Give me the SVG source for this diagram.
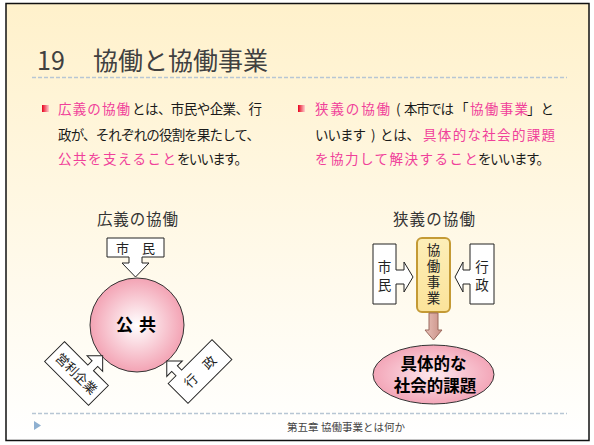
<svg xmlns="http://www.w3.org/2000/svg" width="594" height="445" viewBox="0 0 594 445">
<defs>
<linearGradient id="bg" x1="0" y1="0" x2="0" y2="1">
<stop offset="0" stop-color="#fff1cb"/>
<stop offset="0.92" stop-color="#fffefb"/>
<stop offset="1" stop-color="#ffffff"/>
</linearGradient>
<linearGradient id="bul" x1="0" y1="0" x2="1" y2="0">
<stop offset="0" stop-color="#e8001c"/>
<stop offset="1" stop-color="#ffd0d0"/>
</linearGradient>
<radialGradient id="pinkc" cx="0.5" cy="0.5" r="0.5">
<stop offset="0" stop-color="#ffffff"/>
<stop offset="1" stop-color="#f3a3b4"/>
</radialGradient>
<radialGradient id="pinke" cx="0.5" cy="0.5" r="0.5">
<stop offset="0" stop-color="#fde8ee"/>
<stop offset="1" stop-color="#f3a6b8"/>
</radialGradient>
<linearGradient id="gold" x1="0" y1="0" x2="0" y2="1">
<stop offset="0" stop-color="#fdeeb8"/>
<stop offset="1" stop-color="#fbe39a"/>
</linearGradient>
<linearGradient id="brown" x1="0" y1="0" x2="1" y2="0">
<stop offset="0" stop-color="#e8c0b8"/>
<stop offset="1" stop-color="#c98f85"/>
</linearGradient>
</defs>
<style>
text{font-family:"Noto Sans CJK JP","Noto Sans",sans-serif;}
.t{font-size:13.5px;fill:#1a1a1a;}
.p{fill:#f0409a;}
.h{font-size:15.5px;fill:#333;}
.cb{fill:#ffffff;stroke:#222;stroke-width:1;}
.lb{font-size:13px;fill:#222;}
.vt{font-size:13.5px;fill:#222;writing-mode:vertical-rl;}
.bold{font-weight:bold;fill:#000;}
.dot{stroke:#b7c6d4;stroke-width:1.5;stroke-dasharray:4 2;fill:none;}
</style>
<rect x="0" y="0" width="594" height="445" fill="#ffffff"/>
<rect x="6" y="3.5" width="583" height="437" fill="url(#bg)" stroke="#111" stroke-width="1.5"/>

<g id="title">
<text x="37" y="70" style="font-size:25px;fill:#404040;">19<tspan x="93">協働と協働事業</tspan></text>
<line x1="32" y1="77.5" x2="567" y2="77.5" class="dot"/>
</g>

<g id="bullet-left">
<rect x="42" y="105" width="7" height="7" fill="url(#bul)"/>
<text class="t" y="114"><tspan class="p" x="58" textLength="72" lengthAdjust="spacing">広義の協働</tspan><tspan x="132" textLength="130" lengthAdjust="spacing">とは、市民や企業、行</tspan></text>
<text class="t" y="140"><tspan x="58" textLength="202" lengthAdjust="spacing">政が、それぞれの役割を果たして、</tspan></text>
<text class="t" y="164"><tspan class="p" x="58" textLength="118" lengthAdjust="spacing">公共を支えること</tspan><tspan x="177" textLength="71" lengthAdjust="spacing">をいいます。</tspan></text>
</g>

<g id="bullet-right">
<rect x="298" y="105" width="7" height="7" fill="url(#bul)"/>
<text class="t" y="114"><tspan class="p" x="315" textLength="75" lengthAdjust="spacing">狭義の協働</tspan><tspan x="396">(</tspan><tspan x="404" textLength="50" lengthAdjust="spacing">本市では</tspan><tspan x="455">「</tspan><tspan class="p" x="470" textLength="58" lengthAdjust="spacing">協働事業</tspan><tspan x="527">」と</tspan></text>
<text class="t" y="140"><tspan x="315" textLength="51" lengthAdjust="spacing">いいます</tspan><tspan x="371">)</tspan><tspan x="380" textLength="40" lengthAdjust="spacing">とは、</tspan><tspan class="p" x="423" textLength="132" lengthAdjust="spacing">具体的な社会的課題</tspan></text>
<text class="t" y="164"><tspan class="p" x="315" textLength="163" lengthAdjust="spacing">を協力して解決すること</tspan><tspan x="478" textLength="72" lengthAdjust="spacing">をいいます。</tspan></text>
</g>

<g id="heading-left"><text class="h" x="97" y="225" textLength="81" lengthAdjust="spacing">広義の協働</text></g>
<g id="heading-right"><text class="h" x="393" y="225" textLength="82" lengthAdjust="spacing">狭義の協働</text></g>

<g id="kokyo">
<circle cx="137" cy="325" r="47" fill="url(#pinkc)" stroke="#333" stroke-width="1"/>
<text x="139" y="331" text-anchor="middle" class="bold" style="font-size:17px;letter-spacing:6px;">公共</text>
</g>

<g id="shimin-left">
<path class="cb" d="M107,238 H164 V257 H142 V263 H149 L135.5,277 L122,263 H129 V257 H107 Z"/>
<text class="lb" x="135.5" y="253" text-anchor="middle">市　民</text>
</g>

<g id="eiri" transform="translate(76.5,373.5) rotate(45)">
<path class="cb" d="M-31,-14 H2 V-20 H-5 L6,-31 L17,-20 H10 V-14 H31 V14 H-31 Z"/>
<text class="lb" x="0" y="5" text-anchor="middle">営利企業</text>
</g>

<g id="gyosei-left" transform="translate(200,371.5) rotate(-45)">
<path class="cb" d="M-31,-14 H-20 V-20 H-27 L-16,-31 L-5,-20 H-12 V-14 H31 V14 H-31 Z"/>
<text class="lb" x="0" y="5" text-anchor="middle">行　政</text>
</g>

<g id="shimin-right">
<path class="cb" d="M373,244 H396 V270 H404 V262 L413,277 L404,292 V284 H396 V304 H373 Z"/>
<text class="vt" x="384.5" y="260" style="letter-spacing:5px;">市民</text>
</g>

<g id="gyosei-right">
<path class="cb" d="M494,244 H470 V270 H463 V262 L455,277 L463,292 V284 H470 V304 H494 Z"/>
<text class="vt" x="482" y="260" style="letter-spacing:5px;">行政</text>
</g>

<g id="kyodo-jigyo">
<rect x="417" y="238" width="33" height="74" rx="5" fill="url(#gold)" stroke="#c49a35" stroke-width="2"/>
<text class="vt" x="433.5" y="243" style="letter-spacing:2.5px;">協働事業</text>
</g>

<g id="connectors">
<path d="M429,313 H438 V330 H442 L433.5,340 L425,330 H429 Z" fill="url(#brown)" stroke="#9b6a5e" stroke-width="1"/>
</g>

<g id="kadai">
<ellipse cx="433.5" cy="374.5" rx="60.5" ry="29.5" fill="url(#pinke)" stroke="#333" stroke-width="1"/>
<text x="433.5" y="370" text-anchor="middle" class="bold" style="font-size:16.5px;">具体的な</text>
<text x="435" y="392" text-anchor="middle" class="bold" style="font-size:16.5px;">社会的課題</text>
</g>

<g id="footer">
<line x1="32" y1="413.5" x2="567" y2="413.5" class="dot"/>
<path d="M34,421 L41,425.5 L34,430 Z" fill="#8fb0d0"/>
<text x="346" y="431" text-anchor="middle" style="font-size:10.5px;fill:#444;">第五章  協働事業とは何か</text>
</g>
</svg>
